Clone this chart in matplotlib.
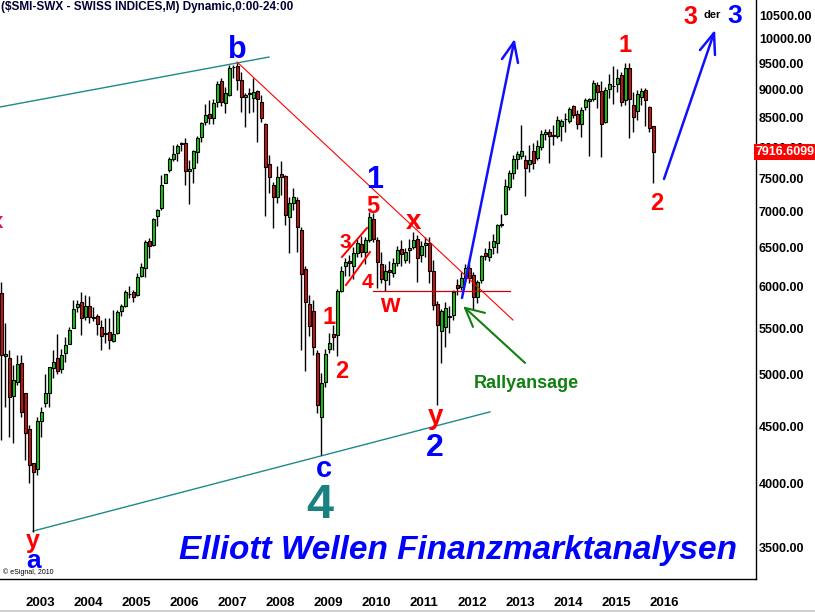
import matplotlib
matplotlib.use('Agg')
import matplotlib.pyplot as plt
import numpy as np
import pandas as pd
from matplotlib import font_manager
from matplotlib.lines import Line2D
from matplotlib.ticker import NullLocator

# ---------------- data (monthly SMI candles, Jul 2002 .. Feb 2016) ----------------
start_month = '2002-07'
opens = [5920, 5200, 5180, 4785, 4930, 5130,
         4820, 4475, 4170, 4120, 4545, 4720, 4820, 5070, 5175, 5060, 5230, 5335,
         5510, 5750, 5810, 5635, 5765, 5625, 5650, 5520, 5440, 5465, 5365, 5455,
         5705, 5765, 5905, 5930, 5895, 6135, 6230, 6595, 6540, 6940, 7055, 7425,
         7625, 7805, 7900, 8050, 8070, 7615, 7660, 7920, 8165, 8425, 8565, 8495,
         8780, 9170, 8760, 8910, 9430, 9450, 9185, 8870, 8930, 8855, 8980, 8780,
         8390, 7725, 7395, 7220, 7570, 7535, 6925, 7135, 7175, 6740, 6220, 5790,
         5705, 5230, 4585, 4930, 5275, 5445, 5430, 5945, 6255, 6325, 6255, 6430,
         6550, 6440, 6600, 6900, 6600, 6290, 6080, 6210, 6170, 6300, 6490, 6340,
         6470, 6510, 6620, 6400, 6540, 6560, 6200, 5790, 5470, 5520, 5650, 5660,
         6020, 5995, 6110, 6235, 6140, 5870, 6080, 6430, 6380, 6510, 6565, 6810,
         6975, 7370, 7585, 7805, 7855, 7790, 7725, 7935, 7820, 8000, 8220, 8255,
         8185, 8185, 8355, 8470, 8440, 8705, 8565, 8390, 8690, 8800, 8835, 9090,
         8980, 8425, 9020, 9070, 9110, 9280, 8815, 9415, 8725, 8620, 8870, 9000,
         8690, 8355]
highs = [6055, 5570, 5265, 5100, 5210, 5210,
         4820, 4510, 4170, 4585, 4680, 5010, 5080, 5265, 5440, 5275, 5410, 5520,
         5835, 5835, 5930, 5895, 5885, 5750, 5670, 5600, 5625, 5625, 5720, 5720,
         5790, 5955, 6010, 5955, 6165, 6295, 6605, 6635, 6915, 7040, 7550, 7565,
         7835, 8035, 8050, 8085, 8150, 7790, 7950, 8185, 8425, 8745, 8815, 8835,
         9170, 9225, 9055, 9475, 9475, 9510, 9340, 8945, 9035, 9225, 9000, 8900,
         8410, 7870, 7440, 7690, 7775, 7550, 7215, 7355, 7215, 6780, 6255, 5895,
         5835, 5260, 5020, 5275, 5455, 5540, 5970, 6255, 6365, 6400, 6505, 6620,
         6660, 6640, 7000, 6990, 6650, 6450, 6280, 6320, 6360, 6520, 6600, 6500,
         6620, 6720, 6680, 6590, 6640, 6640, 6340, 5830, 5730, 5810, 5760, 5960,
         6100, 6180, 6280, 6280, 6180, 6080, 6410, 6500, 6590, 6690, 6830, 6970,
         7490, 7630, 7870, 7940, 8380, 7870, 8030, 8060, 8117, 8290, 8300, 8305,
         8370, 8530, 8480, 8580, 8680, 8725, 8640, 8690, 8850, 8850, 9180, 9140,
         9160, 9060, 9300, 9455, 9400, 9330, 9510, 9510, 8960, 9000, 9035, 9035,
         8708, 8360]
lows = [4370, 4680, 4400, 4350, 4900, 4585,
        4195, 4000, 3620, 4065, 4400, 4680, 4680, 4970, 5010, 5020, 5135, 5335,
        5505, 5695, 5430, 5600, 5565, 5590, 5430, 5265, 5340, 5280, 5355, 5440,
        5650, 5750, 5860, 5810, 5885, 6120, 6120, 6365, 6530, 6800, 7025, 7425,
        7600, 7770, 7770, 7935, 7395, 7110, 7425, 7745, 8085, 8375, 8390, 8390,
        8690, 8710, 8580, 8890, 9225, 9000, 8600, 8340, 8585, 8600, 8085, 8420,
        6935, 7280, 6770, 7130, 7250, 6810, 6430, 7030, 6450, 5265, 5045, 5420,
        5210, 4625, 4240, 4875, 5230, 5265, 5195, 5935, 6135, 6135, 6090, 6380,
        6380, 6290, 6580, 6580, 5980, 6050, 5950, 6020, 6120, 6260, 6260, 6300,
        6300, 6480, 6060, 6310, 6380, 6040, 5720, 4700, 5120, 5300, 5450, 5600,
        5900, 5960, 6060, 6050, 5720, 5800, 6040, 6340, 6330, 6420, 6430, 6790,
        6950, 7320, 7490, 7650, 7800, 7230, 7600, 7650, 7790, 7950, 8120, 7735,
        8030, 8150, 8100, 8255, 8400, 8500, 8300, 8170, 8640, 7860, 8800, 8670,
        7840, 8400, 8850, 8745, 8960, 8700, 8720, 8150, 8255, 8460, 8725, 8355,
        8250, 7425]
closes = [5210, 5225, 4780, 4950, 5115, 4635,
          4440, 4155, 4095, 4545, 4635, 4820, 5080, 5135, 5045, 5210, 5320, 5485,
          5730, 5790, 5625, 5765, 5635, 5630, 5555, 5420, 5450, 5370, 5445, 5695,
          5765, 5930, 5910, 5870, 6120, 6245, 6580, 6525, 6900, 7025, 7395, 7565,
          7805, 7885, 8020, 8065, 7615, 7645, 7935, 8150, 8410, 8545, 8495, 8760,
          9115, 8780, 8945, 9415, 9445, 9185, 8870, 8900, 8950, 8965, 8835, 8495,
          7680, 7520, 7220, 7520, 7520, 6955, 7125, 7220, 6790, 6160, 5810, 5530,
          5300, 4700, 4920, 5225, 5340, 5410, 5945, 6200, 6310, 6300, 6430, 6560,
          6440, 6600, 6930, 6620, 6310, 6100, 6200, 6180, 6300, 6470, 6420, 6440,
          6500, 6610, 6370, 6520, 6560, 6200, 5780, 5545, 5700, 5740, 5630, 5935,
          5985, 6110, 6235, 6107, 5870, 6057, 6390, 6385, 6485, 6590, 6810, 6825,
          7385, 7585, 7805, 7885, 7935, 7660, 7790, 7740, 8020, 8220, 8255, 8185,
          8200, 8460, 8440, 8480, 8650, 8550, 8390, 8636, 8815, 8830, 9130, 8960,
          8390, 9000, 9110, 9080, 9225, 8780, 9415, 8830, 8510, 8925, 8980, 8815,
          8320, 7916.6099]
year_labels = [str(y) for y in range(2003, 2017)]
ytick_values = [3500, 4000, 4500, 5000, 5500, 6000, 6500, 7000, 7500, 8000,
                8500, 9000, 9500, 10000, 10500]
last_price = 7916.6099

# trend / annotation lines in (month index from Jan 2003, price)
upper_channel = ([-6.25, 61.0], [8689, 9632])
lower_channel = ([2.0, 116.25], [3624, 4634])
resistance = ([53.0, 122.0], [9535, 5600])
w_level = ([87.0, 121.25], [5950, 5950])
wedge_a = ([79.25, 85.5], [6378, 6770])
wedge_b = ([80.25, 86.25], [6019, 6443])
arrow_left = ([109.25, 122.25], [5861, 9935], [(119.25, 9593), (123.25, 9515)])
arrow_right = ([159.75, 172.25], [7491, 10121], [(168.75, 9772), (172.5, 9673)])
arrow_green = ([125.0, 110.0], [5126, 5742], [(115.0, 5683), (112.0, 5521)])

# ---------------- figure ----------------
avail = {f.name for f in font_manager.fontManager.ttflist}
LAB = 'Liberation Sans' if 'Liberation Sans' in avail else 'DejaVu Sans'
NARROW = 'Liberation Sans Narrow' if 'Liberation Sans Narrow' in avail else LAB

W, H = 815, 612
AX_R, AX_B = 756, 579
fig = plt.figure(figsize=(W / 100, H / 100), dpi=100)
fig.patch.set_facecolor('white')
ax = fig.add_axes([0, 1 - AX_B / H, AX_R / W, AX_B / H])

n = len(closes)
dates = pd.date_range(start_month, periods=n, freq='MS')
m = np.array((dates.year - 2003) * 12 + dates.month - 1, dtype=float)
o = np.array(opens, float); c = np.array(closes, float)
hi = np.array(highs, float); lo = np.array(lows, float)

ax.set_yscale('log')
ax.set_xlim(-6.25, 182.75)
ax.set_ylim(3283, 10834)

ax.vlines(m, lo, hi, color='black', lw=1.0, zorder=2)
col = np.where(c >= o, '#14c814', '#d01010')
ax.bar(m, np.abs(c - o), bottom=np.minimum(o, c), width=0.75, color=col,
       edgecolor='black', linewidth=0.8, zorder=3)

# lines
ax.plot(*upper_channel, color='#1e8a8a', lw=1.0, zorder=1)
ax.plot(*lower_channel, color='#1e8a8a', lw=1.0, zorder=1)
ax.plot(*resistance, color='#ff0000', lw=0.8, zorder=4)
ax.plot(*w_level, color='#d00000', lw=0.9, zorder=4)
ax.plot(*wedge_a, color='#ff0000', lw=1.4, zorder=4)
ax.plot(*wedge_b, color='#ff0000', lw=1.4, zorder=4)

def draw_arrow(spec, color, lw):
    xs, ys, wings = spec
    ax.plot(xs, ys, color=color, lw=lw, zorder=5, solid_capstyle='round')
    for wx, wy in wings:
        ax.plot([xs[1], wx], [ys[1], wy], color=color, lw=lw, zorder=5,
                solid_capstyle='round')

draw_arrow(arrow_left, '#1010ff', 1.8)
draw_arrow(arrow_right, '#1010ff', 1.8)
draw_arrow(arrow_green, '#108010', 1.5)

# axes styling
for s in ['top', 'left']:
    ax.spines[s].set_visible(False)
for s in ['right', 'bottom']:
    ax.spines[s].set_color('black')
    ax.spines[s].set_linewidth(1.0)
ax.yaxis.tick_right()
ax.set_yticks(ytick_values)
ax.set_yticklabels([f'{v:.2f}' for v in ytick_values])
ax.yaxis.set_minor_locator(NullLocator())
ax.tick_params(axis='y', length=0, pad=2, labelsize=9)
for lbl in ax.get_yticklabels():
    lbl.set_fontweight('bold'); lbl.set_fontfamily(LAB)
ax.set_xticks([12 * k for k in range(len(year_labels))])
ax.set_xticklabels(year_labels)
ax.tick_params(axis='x', length=0, pad=13, labelsize=9.5)
for lbl in ax.get_xticklabels():
    lbl.set_horizontalalignment('left'); lbl.set_fontweight('bold')
    lbl.set_fontfamily(NARROW)

# text labels (pixel positions inside the axes)
def T(px, py, s, color, size, **kw):
    ax.text(px / AX_R, 1 - py / AX_B, s, transform=ax.transAxes, color=color,
            fontsize=size, fontweight='bold', family=LAB, ha=kw.pop('ha', 'center'),
            va=kw.pop('va', 'center'), zorder=6, clip_on=False, **kw)

RED, BLUE = '#ff0000', '#0000ff'
T(237, 50, 'b', BLUE, 22)
T(324, 469, 'c', BLUE, 21)
T(320, 505, '4', '#1a8080', 35)
T(33, 541, 'y', RED, 18)
T(34, 561, 'a', BLUE, 19)
T(375, 180, '1', BLUE, 22)
T(373, 207, '5', RED, 17)
T(345, 242, '3', RED, 15)
T(367, 282, '4', RED, 15)
T(329, 318, '1', RED, 17)
T(342, 372, '2', RED, 17)
T(413, 222, 'x', RED, 20)
T(390, 305, 'w', RED, 18)
T(436, 417, 'y', RED, 20)
T(435, 448, '2', BLUE, 23)
T(526, 384, 'Rallyansage', '#108010', 13)
T(625, 46, '1', RED, 17)
T(657, 204, '2', RED, 17)
T(690, 17, '3', RED, 18)
T(712, 15, 'der', 'black', 8)
T(735, 16, '3', BLUE, 19)
T(-3, 222, 'x', '#e8155a', 16)
T(458, 551, 'Elliott Wellen Finanzmarktanalysen', BLUE, 24, style='italic')
ax.text(3 / AX_R, 1 - 572 / AX_B, '© eSignal, 2010', transform=ax.transAxes,
        fontsize=5, color='black', family=LAB, ha='left', va='center')

# title
fig.text(1 / W, 1 - 7 / H, '($SMI-SWX - SWISS INDICES,M) Dynamic,0:00-24:00',
         fontsize=8.5, fontweight='bold', color='#000033', family=LAB,
         ha='left', va='center')

# last price tag
ax.text(1.0, last_price, f'{last_price:.4f}',
        transform=ax.get_yaxis_transform(), ha='left', va='center',
        fontsize=9, fontweight='bold', color='white', family=LAB, zorder=10,
        clip_on=False,
        bbox=dict(boxstyle='square,pad=0.15', facecolor='#ff0000', edgecolor='none'))

# status-bar line at very bottom
fig.add_artist(Line2D([0, 1], [1 - 610.5 / H] * 2, color='#cfcfcf', lw=1.5,
                      transform=fig.transFigure))

fig.savefig('out.png', dpi=100, facecolor='white')
